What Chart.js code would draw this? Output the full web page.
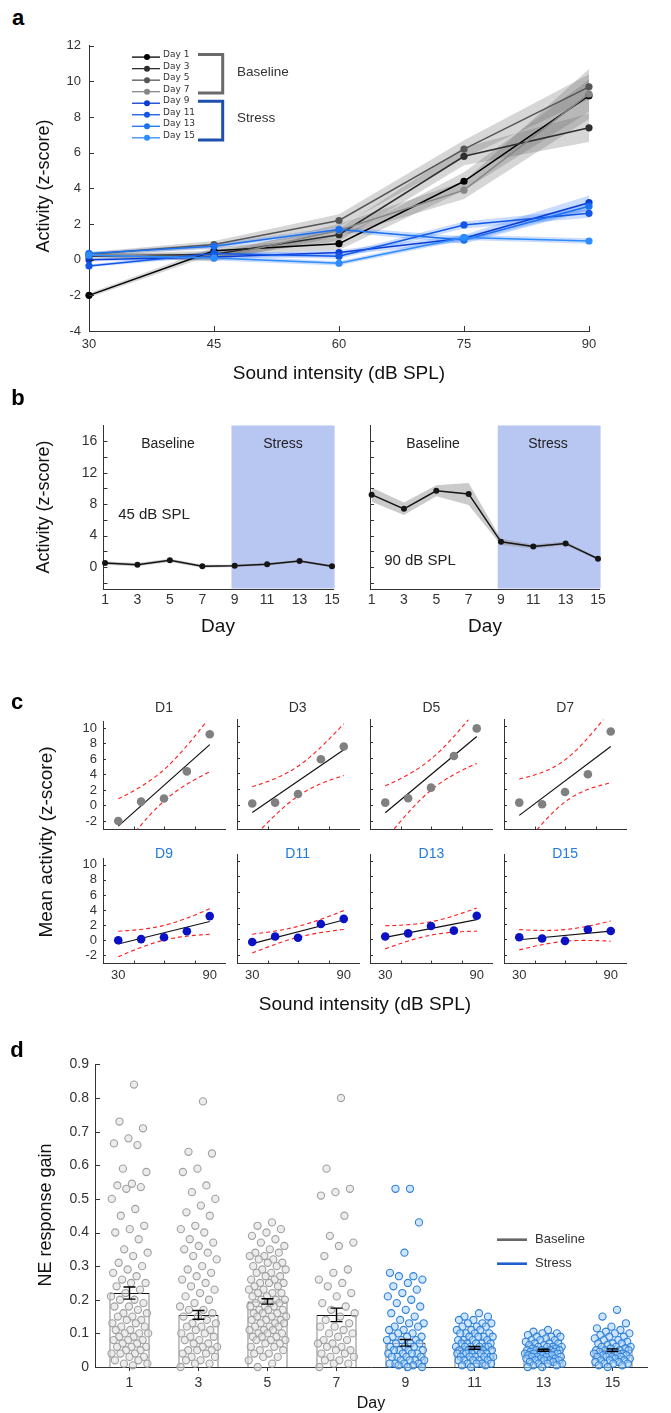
<!DOCTYPE html>
<html>
<head>
<meta charset="utf-8">
<title>Figure</title>
<script src="https://cdn.jsdelivr.net/npm/chart.js@4.4.1/dist/chart.umd.min.js"></script>
<style>
html,body{margin:0;padding:0;background:#ffffff;}
#page{position:relative;width:671px;height:1413px;overflow:hidden;background:#fff;font-family:"Liberation Sans",Arial,Helvetica,sans-serif;color:#222;}
#page canvas{position:absolute;}
.t{position:absolute;white-space:nowrap;line-height:1;}
</style>
</head>
<body>
<div id="page"></div>
<script>
/* ================= DATA ================= */
const intensities = [30, 45, 60, 75, 90];
const days = [1, 3, 5, 7, 9, 11, 13, 15];
const dayNames = ['Day 1', 'Day 3', 'Day 5', 'Day 7', 'Day 9', 'Day 11', 'Day 13', 'Day 15'];
const subplotTitles = ['D1', 'D3', 'D5', 'D7', 'D9', 'D11', 'D13', 'D15'];

// mean activity (z-score) per day at 30,45,60,75,90 dB SPL
const act1  = [-2.0, 0.5, 0.9, 4.4, 9.2];
const act3  = [0.2, 0.3, 1.4, 5.8, 7.4];
const act5  = [0.3, 0.85, 2.2, 6.2, 9.7];
const act7  = [0.3, 0.1, 1.65, 3.9, 9.3];
const act9  = [0.0, 0.15, 0.4, 1.2, 3.2];
const act11 = [-0.35, 0.35, 0.2, 1.95, 2.6];
const act13 = [0.35, 0.75, 1.7, 1.1, 3.0];
const act15 = [0.25, 0.1, -0.2, 1.25, 1.05];

// SEM of activity
const sem1  = [0.12, 0.2, 0.35, 0.5, 0.9];
const sem3  = [0.12, 0.2, 0.35, 0.5, 0.8];
const sem5  = [0.12, 0.2, 0.35, 0.5, 0.7];
const sem7  = [0.12, 0.2, 0.35, 0.5, 1.4];
const sem9  = [0.08, 0.15, 0.15, 0.2, 0.4];
const sem11 = [0.08, 0.15, 0.15, 0.2, 0.25];
const sem13 = [0.08, 0.15, 0.15, 0.2, 0.25];
const sem15 = [0.08, 0.15, 0.12, 0.15, 0.15];

const stressStartDay = 8.8;

// tick values
const ticksA_x = [30, 45, 60, 75, 90];
const ticksA_y = [-4, -2, 0, 2, 4, 6, 8, 10, 12];
const ticksB_yLabels = [0, 4, 8, 12, 16];
const ticksB_yMarks = [-2, 0, 2, 4, 6, 8, 10, 12, 14, 16];
const ticksC_y = [-2, 0, 2, 4, 6, 8, 10];
const ticksC_xLabels = [30, 90];
const ticksC_xMarks = [40, 60, 80];
const ticksD_y = [0, 0.1, 0.2, 0.3, 0.4, 0.5, 0.6, 0.7, 0.8, 0.9];

// NE response gain (individual cells) per day
const gainDay1 = [0.84,0.73,0.71,0.68,0.665,0.66,0.59,0.58,0.545,0.54,0.535,0.53,0.50,0.47,0.45,0.42,0.41,0.40,0.38,0.35,0.34,0.33,0.31,0.30,0.29,0.28,0.27,0.26,0.25,0.25,0.24,0.23,0.22,0.21,0.20,0.20,0.19,0.18,0.18,0.17,0.16,0.16,0.15,0.15,0.14,0.14,0.13,0.13,0.12,0.12,0.11,0.11,0.10,0.10,0.10,0.09,0.09,0.08,0.08,0.08,0.07,0.07,0.06,0.06,0.06,0.05,0.05,0.04,0.04,0.04,0.03,0.03,0.02,0.02,0.01,0.01,0.005];
const gainDay3 = [0.79,0.64,0.635,0.59,0.58,0.54,0.52,0.50,0.48,0.46,0.45,0.42,0.41,0.40,0.38,0.37,0.36,0.35,0.34,0.33,0.32,0.30,0.29,0.28,0.27,0.26,0.25,0.24,0.23,0.22,0.21,0.20,0.19,0.18,0.17,0.17,0.16,0.15,0.15,0.14,0.13,0.13,0.12,0.12,0.11,0.11,0.10,0.10,0.09,0.09,0.08,0.08,0.07,0.07,0.06,0.06,0.05,0.05,0.05,0.04,0.04,0.03,0.03,0.02,0.02,0.01,0.01,0.0];
const gainDay5 = [0.43,0.42,0.41,0.40,0.39,0.38,0.37,0.36,0.35,0.34,0.34,0.33,0.33,0.32,0.32,0.31,0.31,0.30,0.30,0.29,0.29,0.28,0.28,0.27,0.27,0.26,0.26,0.25,0.25,0.25,0.24,0.24,0.23,0.23,0.22,0.22,0.22,0.21,0.21,0.20,0.20,0.20,0.19,0.19,0.19,0.18,0.18,0.18,0.17,0.17,0.17,0.16,0.16,0.16,0.15,0.15,0.15,0.14,0.14,0.14,0.13,0.13,0.13,0.12,0.12,0.12,0.11,0.11,0.11,0.10,0.10,0.10,0.09,0.09,0.09,0.08,0.08,0.08,0.07,0.07,0.06,0.06,0.05,0.05,0.04,0.04,0.03,0.03,0.02,0.01,0.0];
const gainDay7 = [0.80,0.59,0.53,0.52,0.51,0.45,0.39,0.37,0.36,0.33,0.29,0.28,0.26,0.25,0.24,0.22,0.21,0.19,0.18,0.17,0.16,0.15,0.14,0.13,0.12,0.12,0.11,0.10,0.10,0.09,0.08,0.08,0.07,0.07,0.06,0.06,0.05,0.05,0.04,0.04,0.03,0.03,0.02,0.02,0.01,0.01,0.0];
const gainDay9 = [0.53,0.53,0.43,0.34,0.28,0.27,0.27,0.26,0.25,0.24,0.23,0.22,0.21,0.20,0.19,0.18,0.17,0.16,0.15,0.14,0.13,0.13,0.12,0.12,0.11,0.11,0.10,0.10,0.09,0.09,0.09,0.08,0.08,0.08,0.07,0.07,0.07,0.06,0.06,0.06,0.05,0.05,0.05,0.05,0.04,0.04,0.04,0.04,0.03,0.03,0.03,0.03,0.02,0.02,0.02,0.02,0.01,0.01,0.01,0.01,0.005,0.005,0.0,0.0];
const gainDay11 = [0.16,0.15,0.15,0.14,0.14,0.13,0.13,0.13,0.12,0.12,0.12,0.11,0.11,0.11,0.10,0.10,0.10,0.10,0.09,0.09,0.09,0.09,0.08,0.08,0.08,0.08,0.07,0.07,0.07,0.07,0.07,0.06,0.06,0.06,0.06,0.06,0.06,0.05,0.05,0.05,0.05,0.05,0.05,0.04,0.04,0.04,0.04,0.04,0.04,0.03,0.03,0.03,0.03,0.03,0.03,0.02,0.02,0.02,0.02,0.02,0.01,0.01,0.01,0.01,0.005,0.005,0.0];
const gainDay13 = [0.11,0.105,0.10,0.10,0.095,0.09,0.09,0.09,0.085,0.08,0.08,0.08,0.075,0.07,0.07,0.07,0.065,0.065,0.06,0.06,0.06,0.06,0.055,0.055,0.05,0.05,0.05,0.05,0.05,0.045,0.045,0.045,0.04,0.04,0.04,0.04,0.04,0.035,0.035,0.035,0.03,0.03,0.03,0.03,0.025,0.025,0.025,0.02,0.02,0.02,0.02,0.015,0.015,0.01,0.01,0.01,0.005,0.005,0.0,0.0];
const gainDay15 = [0.17,0.15,0.13,0.12,0.115,0.11,0.105,0.10,0.10,0.095,0.09,0.09,0.085,0.08,0.08,0.075,0.07,0.07,0.07,0.065,0.06,0.06,0.06,0.055,0.055,0.05,0.05,0.05,0.05,0.045,0.045,0.04,0.04,0.04,0.04,0.035,0.035,0.03,0.03,0.03,0.03,0.025,0.025,0.02,0.02,0.02,0.015,0.015,0.01,0.01,0.01,0.005,0.005,0.0];
const gainMean = [0.22, 0.155, 0.195, 0.155, 0.072, 0.057, 0.05, 0.05];
const gainSem  = [0.018, 0.013, 0.008, 0.02, 0.01, 0.004, 0.003, 0.004];

/* ================= SETUP ================= */
Chart.defaults.font.family = '"Liberation Sans", Arial, Helvetica, sans-serif';
Chart.defaults.color = '#333';
Chart.defaults.animation = false;
Chart.defaults.responsive = false;
Chart.defaults.maintainAspectRatio = false;
Chart.defaults.plugins.legend.display = false;
Chart.defaults.plugins.tooltip.enabled = false;

const page = document.getElementById('page');
const actByDay = [act1, act3, act5, act7, act9, act11, act13, act15];
const semByDay = [sem1, sem3, sem5, sem7, sem9, sem11, sem13, sem15];
const gainByDay = [gainDay1, gainDay3, gainDay5, gainDay7, gainDay9, gainDay11, gainDay13, gainDay15];
const lineColors = ['#000000', '#2e2e2e', '#555555', '#868686', '#0b3dd4', '#1257e8', '#1a70f0', '#2d8cff'];
const AX = '#333333';
const noGrid = { display: false, drawTicks: false, tickLength: 0 };

function txt(s, x, y, o = {}) {
  const d = document.createElement('div');
  d.className = 't';
  d.textContent = s;
  d.style.fontSize = (o.size || 14) + 'px';
  if (o.bold) d.style.fontWeight = 'bold';
  d.style.color = o.color || '#222';
  if (o.family) d.style.fontFamily = o.family;
  d.style.left = x + 'px';
  d.style.top = y + 'px';
  let tf = o.anchor === 'left' ? 'translate(0,-50%)' : 'translate(-50%,-50%)';
  if (o.rot) tf += ' rotate(-90deg)';
  d.style.transform = tf;
  page.appendChild(d);
}

function mk(box, area, cfg) {
  const c = document.createElement('canvas');
  c.width = box.w; c.height = box.h;
  c.style.left = box.x + 'px'; c.style.top = box.y + 'px';
  c.style.width = box.w + 'px'; c.style.height = box.h + 'px';
  page.appendChild(c);
  const L = area.l - box.x, T = area.t - box.y, R = box.x + box.w - area.r, B = box.y + box.h - area.b;
  cfg.options = cfg.options || {};
  cfg.options.layout = { padding: { left: 0, top: T, right: R, bottom: 0 } };
  cfg.options.scales.x.afterFit = s => { s.height = B; };
  cfg.options.scales.y.afterFit = s => { s.width = L; };
  return new Chart(c, cfg);
}

function setTicks(vals) { return s => { s.ticks = vals.map(v => ({ value: v })); }; }

// inward tick marks
const inTicks = {
  id: 'inTicks',
  afterDatasetsDraw(chart, args, opts) {
    const ctx = chart.ctx, a = chart.chartArea, len = opts.len || 5;
    ctx.save();
    ctx.strokeStyle = AX; ctx.lineWidth = 1;
    ctx.beginPath();
    (opts.x || []).forEach(v => {
      const px = Math.round(chart.scales.x.getPixelForValue(v)) + 0.5;
      ctx.moveTo(px, a.bottom); ctx.lineTo(px, a.bottom - len);
    });
    (opts.y || []).forEach(v => {
      const py = Math.round(chart.scales.y.getPixelForValue(v)) + 0.5;
      ctx.moveTo(a.left, py); ctx.lineTo(a.left + len, py);
    });
    ctx.stroke();
    ctx.restore();
  }
};

/* ================= PANEL A ================= */
const dsA = [];
actByDay.forEach((m, i) => {
  const s = semByDay[i];
  const band = i >= 4 ? 'rgba(45,115,255,0.25)' : 'rgba(95,95,95,0.26)';
  dsA.push({ data: intensities.map((x, j) => ({ x, y: m[j] + s[j] })), borderWidth: 0, pointRadius: 0, fill: '+1', backgroundColor: band, order: 20 + i });
  dsA.push({ data: intensities.map((x, j) => ({ x, y: m[j] - s[j] })), borderWidth: 0, pointRadius: 0, fill: false, order: 20 + i });
});
actByDay.forEach((m, i) => {
  dsA.push({ label: dayNames[i], data: intensities.map((x, j) => ({ x, y: m[j] })), borderColor: lineColors[i], backgroundColor: lineColors[i],
    pointBackgroundColor: lineColors[i], pointBorderWidth: 0, pointRadius: 3.6, borderWidth: 1.5, fill: false, order: 8 - i, clip: 8 });
});

const legendA = {
  id: 'legendA',
  afterDraw(chart) {
    const ctx = chart.ctx, a = chart.chartArea;
    const x0 = a.left + 43, x1 = a.left + 71, xm = a.left + 58, y0 = a.top + 11.3, dy = 11.53;
    ctx.save();
    lineColors.forEach((c, i) => {
      const y = y0 + i * dy;
      ctx.strokeStyle = c; ctx.lineWidth = 1.3;
      ctx.beginPath(); ctx.moveTo(x0, y); ctx.lineTo(x1, y); ctx.stroke();
      ctx.fillStyle = c; ctx.beginPath(); ctx.arc(xm, y, 3, 0, Math.PI * 2); ctx.fill();
    });
    const bx0 = a.left + 109, bxv = a.left + 133.7;
    function bracket(col, t, b) {
      ctx.strokeStyle = col; ctx.lineWidth = 3; ctx.lineJoin = 'miter';
      ctx.beginPath(); ctx.moveTo(bx0, t); ctx.lineTo(bxv, t); ctx.lineTo(bxv, b); ctx.lineTo(bx0, b); ctx.stroke();
    }
    bracket('#6a6a6a', y0 - 2.6, y0 + 3 * dy + 1.4);
    bracket('#1c4fae', y0 + 4 * dy - 2, y0 + 7 * dy + 2.3);
    ctx.restore();
  }
};

mk({ x: 0, y: 30, w: 671, h: 340 }, { l: 89, t: 43, r: 589, b: 331 }, {
  type: 'line',
  data: { datasets: dsA },
  options: {
    scales: {
      x: { type: 'linear', min: 30, max: 90, afterBuildTicks: setTicks(ticksA_x), grid: noGrid, border: { color: AX }, ticks: { autoSkip: false, maxRotation: 0, padding: 6, font: { size: 13 }, color: '#333' } },
      y: { type: 'linear', min: -4, max: 12, afterBuildTicks: setTicks(ticksA_y), grid: noGrid, border: { color: AX }, ticks: { autoSkip: false, padding: 8, font: { size: 13 }, color: '#333' } }
    },
    plugins: { inTicks: { x: ticksA_x, y: ticksA_y, len: 5 } }
  },
  plugins: [inTicks, legendA]
});

txt('a', 18, 18, { size: 22, bold: true, color: '#000' });
txt('Activity (z-score)', 43, 186, { size: 18, rot: true, color: '#111' });
txt('Sound intensity (dB SPL)', 339, 372, { size: 19, color: '#111' });
dayNames.forEach((n, i) => txt(n, 163, 54.3 + i * 11.53, { size: 9, anchor: 'left', family: '"DejaVu Sans", sans-serif', color: '#333' }));
txt('Baseline', 237, 71.7, { size: 13.5, anchor: 'left', color: '#333' });
txt('Stress', 237, 118.3, { size: 13.5, anchor: 'left', color: '#333' });

/* ================= PANEL B ================= */
const stressBox = {
  id: 'stressBox',
  beforeDatasetsDraw(chart) {
    const ctx = chart.ctx, a = chart.chartArea;
    const x0 = chart.scales.x.getPixelForValue(stressStartDay);
    ctx.save(); ctx.fillStyle = '#b8c6f2';
    ctx.fillRect(x0, a.top, a.right - x0 + 1, a.bottom - a.top - 0.5);
    ctx.restore();
  }
};

function panelB(box, area, col, showY) {
  const mean = actByDay.map(m => m[col]);
  const sem = semByDay.map(s => s[col]);
  mk(box, area, {
    type: 'line',
    data: { datasets: [
      { data: days.map((d, i) => ({ x: d, y: mean[i] + sem[i] })), borderWidth: 0, pointRadius: 0, fill: '+1', backgroundColor: 'rgba(140,140,140,0.45)', order: 5 },
      { data: days.map((d, i) => ({ x: d, y: mean[i] - sem[i] })), borderWidth: 0, pointRadius: 0, fill: false, order: 5 },
      { data: days.map((d, i) => ({ x: d, y: mean[i] })), borderColor: '#151515', backgroundColor: '#151515', pointBackgroundColor: '#151515', pointBorderWidth: 0, pointRadius: 3, borderWidth: 1.5, fill: false, order: 0, clip: 6 }
    ] },
    options: {
      scales: {
        x: { type: 'linear', min: 0.9, max: 15.1, afterBuildTicks: setTicks(days), grid: noGrid, border: { color: AX }, ticks: { autoSkip: false, maxRotation: 0, padding: 3, font: { size: 14 }, color: '#333' } },
        y: { type: 'linear', min: -2.8, max: 18, afterBuildTicks: setTicks(ticksB_yLabels), grid: noGrid, border: { color: AX }, ticks: { autoSkip: false, display: showY, padding: 6, font: { size: 14 }, color: '#333' } }
      },
      plugins: { inTicks: { y: ticksB_yMarks, len: 4 } }
    },
    plugins: [stressBox, inTicks]
  });
}
panelB({ x: 0, y: 410, w: 345, h: 230 }, { l: 103.4, t: 425.5, r: 333.6, b: 589 }, 1, true);
panelB({ x: 345, y: 410, w: 326, h: 230 }, { l: 370, t: 425.5, r: 599.6, b: 589 }, 4, false);

txt('b', 18, 398, { size: 22, bold: true, color: '#000' });
txt('Activity (z-score)', 43, 507, { size: 18, rot: true, color: '#111' });
txt('Baseline', 168, 443, { size: 14, color: '#222' });
txt('Stress', 283, 443, { size: 14, color: '#222' });
txt('Baseline', 433, 443, { size: 14, color: '#222' });
txt('Stress', 548, 443, { size: 14, color: '#222' });
txt('45 dB SPL', 154, 513, { size: 15, color: '#222' });
txt('90 dB SPL', 420, 559, { size: 15, color: '#222' });
txt('Day', 218, 625, { size: 19, color: '#111' });
txt('Day', 485, 625, { size: 19, color: '#111' });

/* ================= PANEL C ================= */
const tCrit = 3.182; // t(0.975, df=3)
function linFit(xs, ys) {
  const n = xs.length;
  const mx = xs.reduce((p, q) => p + q, 0) / n, my = ys.reduce((p, q) => p + q, 0) / n;
  let sxx = 0, sxy = 0;
  xs.forEach((x, i) => { sxx += (x - mx) ** 2; sxy += (x - mx) * (ys[i] - my); });
  const b = sxy / sxx, a = my - b * mx;
  let sse = 0;
  xs.forEach((x, i) => { sse += (ys[i] - a - b * x) ** 2; });
  const s = Math.sqrt(sse / (n - 2));
  return { a, b, s, n, mx, sxx };
}
const ciX = [];
for (let x = intensities[0]; x <= intensities[intensities.length - 1]; x += 2) ciX.push(x);

actByDay.forEach((m, k) => {
  const row = k < 4 ? 0 : 1, col = k % 4;
  const axisX = 103 + 133.7 * col;
  const area = row === 0 ? { l: axisX, r: axisX + 122, t: 719.7, b: 829.5 } : { l: axisX, r: axisX + 122, t: 854.5, b: 963.6 };
  const box = row === 0 ? { x: axisX - 33, y: 708, w: 163, h: 137 } : { x: axisX - 33, y: 845, w: 163, h: 150 };
  const f = linFit(intensities, m);
  const hw = x => tCrit * f.s * Math.sqrt(1 / f.n + (x - f.mx) ** 2 / f.sxx);
  const ptColor = row === 0 ? '#808080' : '#0a12c4';
  mk(box, area, {
    type: 'line',
    data: { datasets: [
      { type: 'scatter', data: intensities.map((x, j) => ({ x, y: m[j] })), pointRadius: 4.3, pointBackgroundColor: ptColor, pointBorderWidth: 0, backgroundColor: ptColor, order: 0, clip: 6 },
      { data: [intensities[0], intensities[4]].map(x => ({ x, y: f.a + f.b * x })), borderColor: '#111', borderWidth: 1.2, pointRadius: 0, fill: false, order: 1 },
      { data: ciX.map(x => ({ x, y: f.a + f.b * x + hw(x) })), borderColor: '#ff1a1a', borderWidth: 1.1, borderDash: [4, 3], pointRadius: 0, fill: false, order: 2, clip: 0 },
      { data: ciX.map(x => ({ x, y: f.a + f.b * x - hw(x) })), borderColor: '#ff1a1a', borderWidth: 1.1, borderDash: [4, 3], pointRadius: 0, fill: false, order: 2, clip: 0 }
    ] },
    options: {
      scales: {
        x: { type: 'linear', min: 20, max: 100, afterBuildTicks: setTicks(ticksC_xLabels), grid: noGrid, border: { color: AX }, ticks: { autoSkip: false, maxRotation: 0, display: row === 1, padding: 4, font: { size: 13 }, color: '#333' } },
        y: { type: 'linear', min: -3.1, max: 10.8, afterBuildTicks: setTicks(ticksC_y), grid: noGrid, border: { color: AX }, ticks: { autoSkip: false, display: col === 0, padding: 6, font: { size: 13 }, color: '#333' } }
      },
      plugins: { inTicks: { x: ticksC_xMarks, y: ticksC_y, len: 3 } }
    },
    plugins: [inTicks]
  });
  txt(subplotTitles[k], axisX + 61, row === 0 ? 707 : 853, { size: 14, color: row === 0 ? '#333' : '#1f7ae0' });
});
txt('c', 17, 702, { size: 22, bold: true, color: '#000' });
txt('Mean activity (z-score)', 45, 842, { size: 19, rot: true, color: '#111' });
txt('Sound intensity (dB SPL)', 365, 1003, { size: 19, color: '#111' });

/* ================= PANEL D ================= */
const jitter = i => ((((i + 1) * 0.6180339887) % 1) - 0.5) * 0.55;
const dsD = [{ type: 'bar', data: gainMean, xAxisID: 'x', yAxisID: 'y', backgroundColor: '#ffffff', borderColor: '#111', borderWidth: 1, barPercentage: 0.58, categoryPercentage: 1, grouped: false, order: 5 }];
gainByDay.forEach((vals, k) => {
  const stress = k >= 4;
  dsD.push({ type: 'scatter', xAxisID: 'x2', yAxisID: 'y', data: vals.map((v, i) => ({ x: k + jitter(i), y: v })),
    pointRadius: 3.6, pointBorderWidth: 1.1,
    pointBorderColor: stress ? '#2f80d8' : '#a0a0a0', pointBackgroundColor: stress ? 'rgba(165,208,250,0.55)' : 'rgba(220,220,220,0.55)',
    borderColor: stress ? '#2f80d8' : '#a0a0a0', backgroundColor: stress ? 'rgba(165,208,250,0.55)' : 'rgba(220,220,220,0.55)', order: 1, clip: 6 });
});

const errBars = {
  id: 'errBars',
  afterDatasetsDraw(chart) {
    const ctx = chart.ctx, ys = chart.scales.y, meta = chart.getDatasetMeta(0);
    ctx.save(); ctx.strokeStyle = '#000'; ctx.lineWidth = 1.4;
    meta.data.forEach((bar, i) => {
      const x = bar.x, t = ys.getPixelForValue(gainMean[i] + gainSem[i]), b = ys.getPixelForValue(gainMean[i] - gainSem[i]);
      ctx.beginPath();
      ctx.moveTo(x, t); ctx.lineTo(x, b);
      ctx.moveTo(x - 6, t); ctx.lineTo(x + 6, t);
      ctx.moveTo(x - 6, b); ctx.lineTo(x + 6, b);
      ctx.stroke();
    });
    ctx.restore();
  }
};
const legendD = {
  id: 'legendD',
  afterDraw(chart) {
    const ctx = chart.ctx, a = chart.chartArea;
    const x0 = a.left + 402, x1 = a.left + 432, y0 = a.top + 175.3;
    ctx.save(); ctx.lineWidth = 2.6;
    ctx.strokeStyle = '#666'; ctx.beginPath(); ctx.moveTo(x0, y0); ctx.lineTo(x1, y0); ctx.stroke();
    ctx.strokeStyle = '#1d5fcf'; ctx.beginPath(); ctx.moveTo(x0, y0 + 24); ctx.lineTo(x1, y0 + 24); ctx.stroke();
    ctx.restore();
  }
};

mk({ x: 0, y: 1050, w: 671, h: 363 }, { l: 95, t: 1062.7, r: 647, b: 1367 }, {
  type: 'bar',
  data: { labels: days.map(String), datasets: dsD },
  options: {
    scales: {
      x: { type: 'category', offset: true, grid: { display: true, drawOnChartArea: false, drawTicks: true, tickLength: 4, offset: false, color: AX }, border: { color: AX }, ticks: { autoSkip: false, maxRotation: 0, padding: 4, font: { size: 14 }, color: '#333' } },
      x2: { type: 'linear', min: -0.5, max: 7.5, offset: false, display: false, grid: { offset: false } },
      y: { type: 'linear', min: 0, max: 0.9, afterBuildTicks: setTicks(ticksD_y), grid: noGrid, border: { color: AX },
        ticks: { autoSkip: false, padding: 6, font: { size: 14 }, color: '#333', callback: v => (v === 0 ? '0' : v.toFixed(1)) } }
    },
    plugins: { inTicks: { y: ticksD_y, len: 5 } }
  },
  plugins: [inTicks, errBars, legendD]
});
txt('d', 17, 1050, { size: 22, bold: true, color: '#000' });
txt('NE response gain', 45, 1215, { size: 18, rot: true, color: '#111' });
txt('Day', 371, 1403, { size: 16, color: '#111' });
txt('Baseline', 535, 1238, { size: 13, anchor: 'left', color: '#333' });
txt('Stress', 535, 1262, { size: 13, anchor: 'left', color: '#333' });
</script>
</body>
</html>
